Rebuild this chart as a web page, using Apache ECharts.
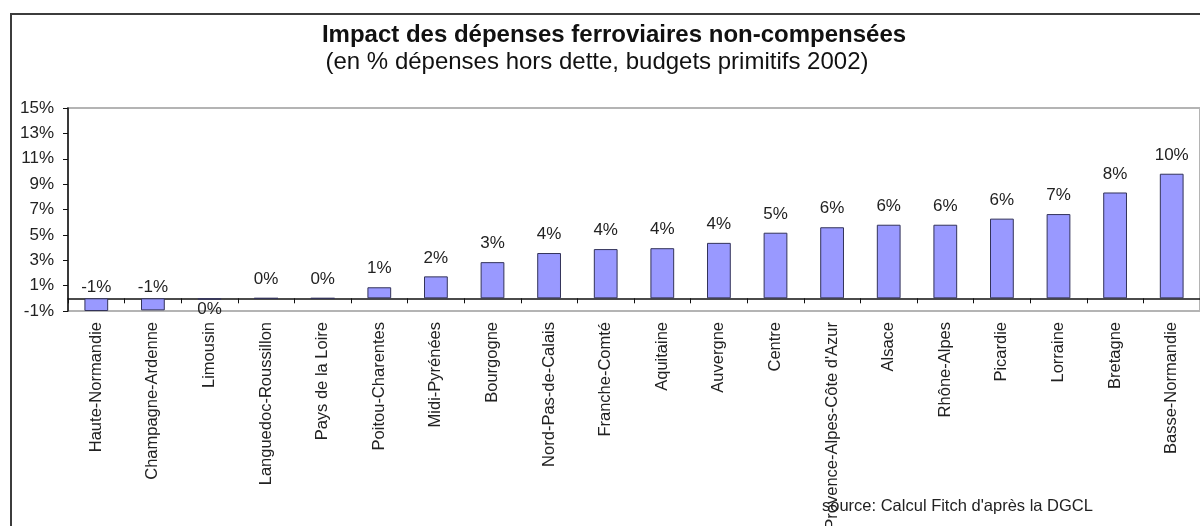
<!DOCTYPE html>
<html>
<head>
<meta charset="utf-8">
<script src="https://cdn.jsdelivr.net/npm/echarts@6/dist/echarts.min.js"></script>
<style>
  html, body { margin: 0; padding: 0; background: #fff; }
  #chart { width: 1200px; height: 526px; }
</style>
</head>
<body>
<div id="chart"></div>
<script>
// régions, triées par impact croissant
var regions = ['Haute-Normandie', 'Champagne-Ardenne', 'Limousin', 'Languedoc-Roussillon',
  'Pays de la Loire', 'Poitou-Charentes', 'Midi-Pyrénées', 'Bourgogne', 'Nord-Pas-de-Calais',
  'Franche-Comté', 'Aquitaine', 'Auvergne', 'Centre', "Provence-Alpes-Côte d'Azur", 'Alsace',
  'Rhône-Alpes', 'Picardie', 'Lorraine', 'Bretagne', 'Basse-Normandie'];
// impact en % des dépenses hors dette
var impact = [-1.0, -0.95, -0.1, 0, 0, 0.87, 1.73, 2.85, 3.57, 3.88, 3.95, 4.37, 5.17, 5.6,
  5.8, 5.8, 6.28, 6.64, 8.34, 9.82];
var yTicks = { min: -1, max: 15, step: 2 };

var titleText = 'Impact des dépenses ferroviaires non-compensées';
var subText = '(en % dépenses hors dette, budgets primitifs 2002)';
var sourceText = "source: Calcul Fitch d'après la DGCL";

var font = '"Liberation Sans", Arial, sans-serif';

var chartView = echarts.init(document.getElementById('chart'));

// etiquettes : au-dessus de la barre, sauf petites valeurs négatives (en dessous)
var barData = impact.map(function (v) {
  var lab;
  if (v < -0.5) {
    lab = { position: 'top', distance: 3 };
  } else if (v < 0) {
    lab = { position: 'bottom', distance: 1 };
  } else {
    lab = { position: 'top', distance: 10 };
  }
  return { value: v, label: lab };
});

chartView.setOption({
  backgroundColor: '#ffffff',
  animation: false,
  graphic: [
    {
      type: 'rect',
      shape: { x: 11, y: 14, width: 1200, height: 520 },
      style: { fill: 'none', stroke: '#3c3c3c', lineWidth: 2 },
      z: -1
    },
    {
      type: 'text',
      x: 614, y: 35,
      style: { text: titleText, font: 'bold 24px ' + font, fill: '#111', textAlign: 'center', textVerticalAlign: 'middle' }
    },
    {
      type: 'text',
      x: 597, y: 62,
      style: { text: subText, font: '24px ' + font, fill: '#111', textAlign: 'center', textVerticalAlign: 'middle' }
    },
    {
      type: 'text',
      x: 822, y: 506,
      style: { text: sourceText, font: '16.5px ' + font, fill: '#222', textAlign: 'left', textVerticalAlign: 'middle' }
    }
  ],
  grid: {
    left: 68,
    right: 0,
    top: 108,
    bottom: 215,
    show: true,
    borderColor: '#b4b4b4',
    borderWidth: 2,
    containLabel: false,
    outerBoundsMode: 'none'
  },
  xAxis: {
    type: 'category',
    data: regions,
    axisLine: { onZero: true, lineStyle: { color: '#111', width: 1.5 } },
    axisTick: { show: true, length: 5, lineStyle: { color: '#111' } },
    axisLabel: {
      interval: 0,
      rotate: 90,
      margin: 11,
      fontSize: 16.5,
      fontFamily: font,
      color: '#222'
    }
  },
  yAxis: {
    type: 'value',
    min: yTicks.min,
    max: yTicks.max,
    interval: yTicks.step,
    splitLine: { show: false },
    axisLine: { show: true, lineStyle: { color: '#111', width: 1.5 } },
    axisTick: { show: true, length: 5, lineStyle: { color: '#111' } },
    axisLabel: {
      formatter: '{value}%',
      fontSize: 17,
      fontFamily: font,
      color: '#222',
      margin: 14
    }
  },
  series: [
    {
      type: 'bar',
      data: barData,
      barWidth: '42%',
      itemStyle: { color: '#9999ff', borderColor: '#33335a', borderWidth: 1 },
      label: {
        show: true,
        fontSize: 17,
        fontFamily: font,
        color: '#222',
        formatter: function (p) { return (Math.round(p.value) + 0) + '%'; }
      }
    }
  ]
});

window.addEventListener('resize', function () {
  chartView.resize();
});
</script>
</body>
</html>
